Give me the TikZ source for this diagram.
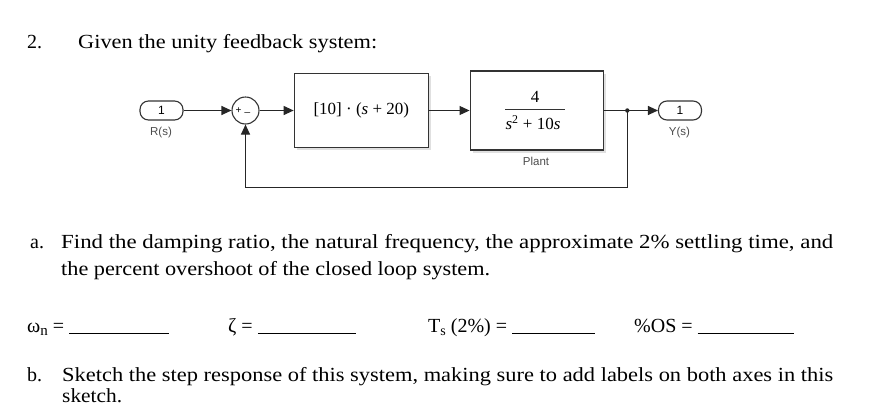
\documentclass[tikz,border=0pt]{standalone}
\usepackage{fontspec}
\usepackage{graphicx}
\setmainfont{Liberation Serif}
\newfontfamily\lsans{Liberation Sans}
\usetikzlibrary{arrows.meta}
\newcommand\fitw[2]{\resizebox{#1}{\height}{#2}}
\newcommand\blank[1]{\rule[-1.5pt]{#1}{0.8pt}}
\begin{document}
\begin{tikzpicture}[x=1pt,y=-1pt,
  wire/.style={draw=black!85, line width=1.1pt},
  arr/.style={wire,-{Triangle[length=10pt,width=9pt]}},
  blk/.style={draw=black!80, line width=1.3pt, fill=white, inner sep=0pt, font=\fontsize{17}{19}\selectfont},
  port/.style={draw=black!80, line width=1.1pt, rounded corners=8.5pt, minimum width=43pt, minimum height=19pt, inner sep=0pt, font=\lsans\fontsize{12}{13}\selectfont},
  lbl/.style={inner sep=0pt, font=\lsans\fontsize{11.5}{12}\selectfont, text=black!70},
  txt/.style={anchor=base west, inner sep=0pt, font=\fontsize{20}{24}\selectfont},
  shadow/.style={fill=black!12, draw=none}]
\useasboundingbox (0,0) rectangle (881,405);

% text
\node[txt] (q2) at (27,48) {2.};
\node[txt] (given) at (78,48) {\fitw{299pt}{Given the unity feedback system:}};

% block diagram
\node[port] (R) at (161.5,110.5) {1};
\node[lbl] (Rl) at (161,132.5) {R(s)};
\node[circle, draw=black!80, line width=1.1pt, minimum size=27pt, inner sep=0pt] (sum) at (245.5,110.5) {};
\node[inner sep=0pt, font=\lsans\fontsize{10}{10}\selectfont] (plus) at (238.5,110.5) {+};
\node[inner sep=0pt, font=\lsans\fontsize{10}{10}\selectfont] (minus) at (247.5,112) {\_};

\fill[shadow] (296.5,75.5) rectangle (430.5,149.5);
\node[blk, minimum width=134pt, minimum height=74pt] (gain) at (361.3,110.5) {[10] · ({\itshape s} + 20)};

\fill[shadow] (472.5,73.5) rectangle (605.5,152.5);
\node[blk, minimum width=133pt, minimum height=79pt] (plant) at (536.7,110.5) {};
\node[inner sep=0pt, font=\fontsize{17}{19}\selectfont] (num) at (535,97) {4};
\draw[black!80, line width=0.8pt] (505,109) -- (565,109);
\node[inner sep=0pt, font=\fontsize{17}{19}\selectfont] (den) at (533,123) {{\itshape s}\textsuperscript{2} + 10{\itshape s}};
\node[lbl] (pl) at (536,161) {Plant};

\coordinate (br) at (627.3,110.5);
\node[port] (Y) at (680,110.5) {1};
\node[lbl] (Yl) at (679.5,132.5) {Y(s)};
\coordinate (fb1) at (627.3,187.7);
\coordinate (fb2) at (245.5,187.7);

\draw[arr] (R) -- (sum);
\draw[arr] (sum) -- (gain);
\draw[arr] (gain) -- (plant);
\draw[wire] (plant.east) -- (br);
\draw[arr] (br) -- (Y);
\draw[arr] (br) -- (fb1) -- (fb2) -- (sum.south);
\fill[black!85] (br) circle (2.2pt);

% part a
\node[txt] (a) at (30,248) {a.};
\node[txt] (a1) at (61,248) {\fitw{772pt}{Find the damping ratio, the natural frequency, the approximate 2\% settling time, and}};
\node[txt] (a2) at (61,275) {\fitw{429pt}{the percent overshoot of the closed loop system.}};

\node[txt] (wn) at (27,332) {ω\raisebox{-3pt}{\fontsize{15}{15}\selectfont n} = \blank{100pt}};
\node[txt] (zeta) at (228,332) {ζ = \blank{98pt}};
\node[txt] (ts) at (428,332) {T\raisebox{-3pt}{\fontsize{14}{14}\selectfont s} (2\%) = \blank{83pt}};
\node[txt] (os) at (634,332) {\%OS = \blank{96pt}};

% part b
\node[txt] (b) at (27,381) {b.};
\node[txt] (b1) at (62,381) {\fitw{771pt}{Sketch the step response of this system, making sure to add labels on both axes in this}};
\node[txt] (b2) at (62,402) {\fitw{60pt}{sketch.}};
\end{tikzpicture}
\end{document}
